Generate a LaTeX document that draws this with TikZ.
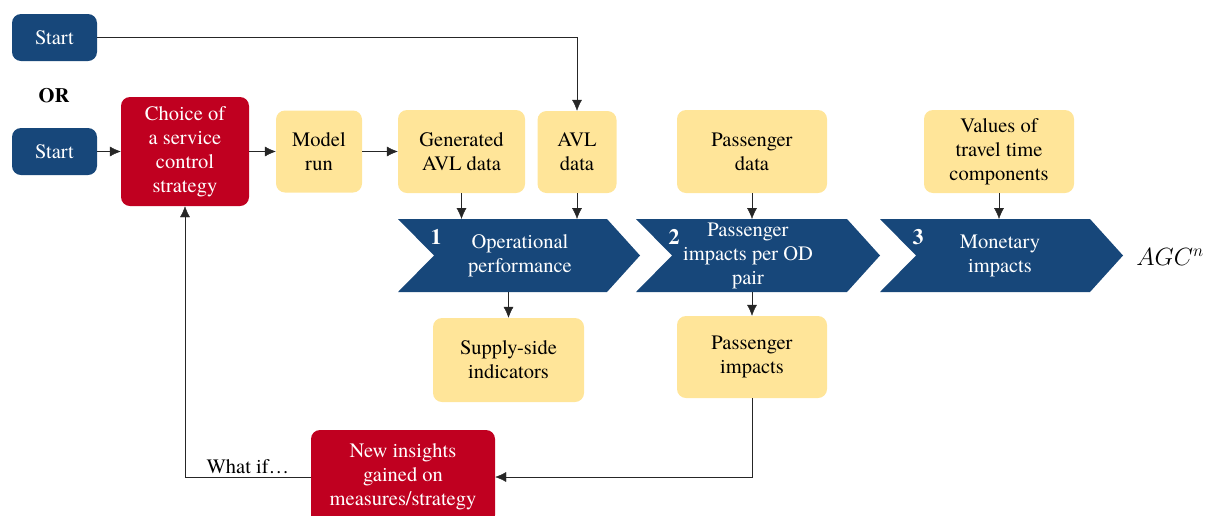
\documentclass[tikz,border=0pt]{standalone}
\usepackage{fontspec}
\setmainfont{texgyretermes}[Extension=.otf, UprightFont=*-regular, BoldFont=*-bold, ItalicFont=*-italic, BoldItalicFont=*-bolditalic]
\usepackage{tikz}
\usetikzlibrary{arrows.meta}

\definecolor{ctrlblue}{HTML}{17477A}
\definecolor{ctrlred}{HTML}{C00020}
\definecolor{ctrlyellow}{HTML}{FFE599}

\tikzset{
  box/.style={rounded corners=9pt, inner sep=0pt, align=center},
  startbox/.style={box, fill=ctrlblue, text=white, minimum width=85pt, minimum height=47pt},
  redbox/.style={box, fill=ctrlred, text=white},
  databox/.style={box, fill=ctrlyellow, text=black},
  chevtext/.style={text=white, align=center, inner sep=0pt},
  chevnum/.style={text=white, font=\fontsize{22}{24}\selectfont\bfseries},
  arr/.style={draw=black!85, thin, -{Latex[length=11pt,width=10pt]}}
}

\begin{document}
\begin{tikzpicture}[x=1pt, y=-1pt, every node/.append style={font=\fontsize{20.5}{24}\selectfont}]
  \useasboundingbox (0,0) rectangle (1205,515);
  % chevrons
  \foreach \l/\w/\num in {398/242/1, 636/244/2, 880/243/3}{
    \fill[ctrlblue] (\l,219) -- ++(\w-33,0) -- ++(33,36.5) -- ++(-33,36.5)
      -- ++(-\w+33,0) -- ++(36,-36.5) -- cycle;
    \node[chevnum] at (\l+38,237) {\num};
  }
  \coordinate (chtop) at (0,219);
  \coordinate (chbot) at (0,292);
  \node[chevtext] (ch1) at (520,256) {Operational\\performance};
  \node[chevtext] (ch2) at (748,256) {Passenger\\impacts per OD\\pair};
  \node[chevtext] (ch3) at (1000,256) {Monetary\\impacts};
  \node[font=\fontsize{23}{24}\selectfont] (agc) at (1170,257) {$AGC^n$};

  % boxes
  \node[startbox] (start1) at (54.5,37.5) {Start};
  \node[font=\fontsize{20.5}{24}\selectfont\bfseries] (or) at (54,96) {OR};
  \node[startbox] (start2) at (54.5,151.5) {Start};
  \node[redbox, minimum width=128pt, minimum height=109pt] (choice) at (185,151.5) {Choice of\\a service\\control\\strategy};
  \node[databox, minimum width=86pt, minimum height=82pt] (model) at (319,151.5) {Model\\run};
  \node[databox, minimum width=127pt, minimum height=83pt] (gen) at (461.5,151.5) {Generated\\AVL data};
  \node[databox, minimum width=79pt, minimum height=82pt] (avl) at (577,152) {AVL\\data};
  \node[databox, minimum width=150pt, minimum height=83pt] (pdata) at (752,151.5) {Passenger\\data};
  \node[databox, minimum width=150pt, minimum height=83pt] (values) at (999,151.5) {Values of\\travel time\\components};
  \node[databox, minimum width=151pt, minimum height=84pt] (supply) at (508.5,360) {Supply-side\\indicators};
  \node[databox, minimum width=150pt, minimum height=82pt] (pimp) at (752,357) {Passenger\\impacts};
  \node[redbox, minimum width=184pt, minimum height=94pt] (insights) at (403,477) {New insights\\gained on\\measures/strategy};

  % connectors
  \draw[arr] (start1.east) -| (avl.north);
  \draw[arr] (start2) -- (choice);
  \draw[arr] (choice) -- (model);
  \draw[arr] (model) -- (gen);
  \draw[arr] (gen.south) -- (gen.south |- chtop);
  \draw[arr] (avl.south) -- (avl.south |- chtop);
  \draw[arr] (pdata.south) -- (pdata.south |- chtop);
  \draw[arr] (values.south) -- (values.south |- chtop);
  \draw[arr] (supply.north |- chbot) -- (supply.north);
  \draw[arr] (pimp.north |- chbot) -- (pimp.north);
  \draw[arr] (pimp.south) |- (insights.east);
  \draw[arr] (insights.west) -| node[pos=0.25, above, inner sep=3pt] (whatif) {What if…} (choice.south);
\end{tikzpicture}
\end{document}
